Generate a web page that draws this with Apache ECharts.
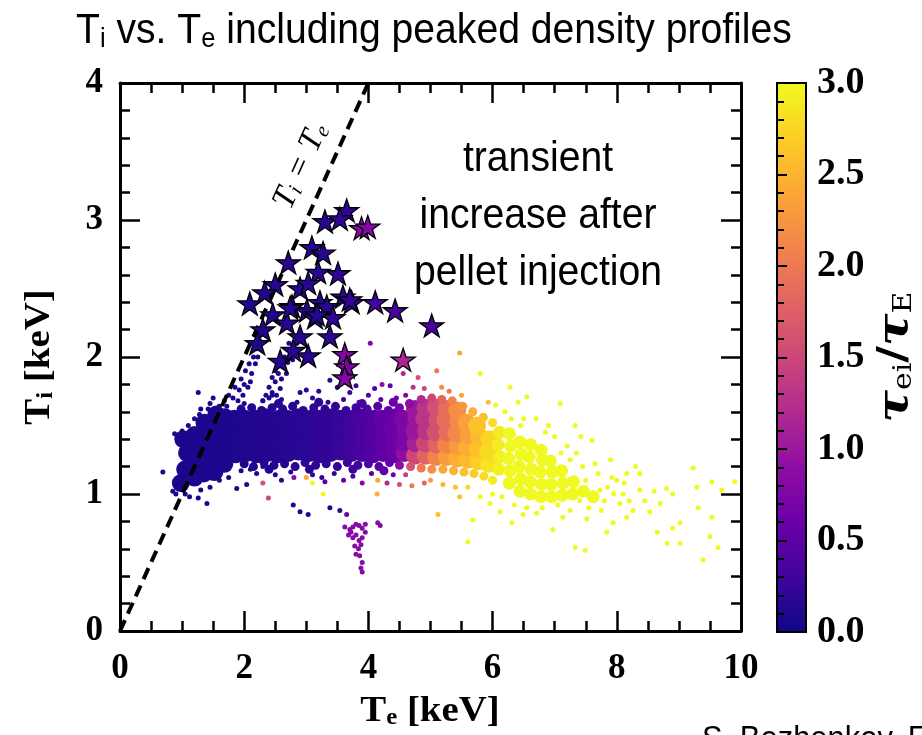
<!DOCTYPE html>
<html><head><meta charset="utf-8">
<script src="https://cdn.jsdelivr.net/npm/echarts@6/dist/echarts.min.js"></script>
<style>html,body{margin:0;padding:0;background:#fff}#c{width:922px;height:735px}</style>
</head><body><div id="c"></div><script>
// ---- data: [Te (keV), Ti (keV), tau_ei/tau_E] ----
const bandCore = [
[0.98,1.08,0.08],[1.05,1.18,0.08],[1.08,1.30,0.08],[1.02,1.40,0.08],
[1.2,1.12,0.08],[1.22,1.22,0.08],[1.18,1.33,0.08],[1.2,1.43,0.08],
[1.35,1.15,0.08],[1.37,1.25,0.08],[1.34,1.35,0.08],[1.38,1.45,0.08],[1.36,1.52,0.08],
[1.52,1.16,0.09],[1.5,1.26,0.09],[1.53,1.35,0.09],[1.5,1.44,0.09],[1.52,1.53,0.09],[1.55,1.58,0.09],
[1.68,1.22,0.1],[1.7,1.31,0.1],[1.67,1.4,0.1],[1.71,1.48,0.1],[1.69,1.56,0.1],
[1.86,1.29,0.1],[1.85,1.38,0.1],[1.88,1.46,0.1],[1.84,1.55,0.1],
[2.03,1.3,0.11],[2.02,1.39,0.11],[2.05,1.47,0.11],[2.01,1.55,0.11],
[2.2,1.29,0.12],[2.19,1.38,0.12],[2.21,1.47,0.12],[2.18,1.55,0.12],
[2.37,1.3,0.13],[2.36,1.39,0.13],[2.38,1.47,0.13],[2.35,1.56,0.13],
[2.54,1.29,0.14],[2.55,1.38,0.14],[2.53,1.46,0.14],[2.56,1.55,0.14],
[2.71,1.3,0.15],[2.7,1.39,0.15],[2.72,1.47,0.15],[2.69,1.55,0.15],
[2.88,1.31,0.16],[2.87,1.39,0.16],[2.89,1.48,0.16],[2.86,1.56,0.16],
[3.05,1.3,0.18],[3.06,1.38,0.18],[3.04,1.47,0.18],[3.07,1.55,0.18],
[3.22,1.29,0.2],[3.21,1.38,0.2],[3.23,1.46,0.2],[3.2,1.55,0.2],
[3.39,1.3,0.22],[3.4,1.39,0.22],[3.38,1.47,0.22],[3.41,1.56,0.22],
[3.56,1.31,0.25],[3.55,1.39,0.25],[3.57,1.48,0.25],[3.54,1.55,0.25],
[3.73,1.3,0.3],[3.74,1.38,0.3],[3.72,1.47,0.3],[3.75,1.55,0.3],
[3.9,1.3,0.36],[3.89,1.39,0.36],[3.91,1.47,0.36],[3.88,1.56,0.36],
[4.07,1.29,0.43],[4.08,1.38,0.43],[4.06,1.46,0.43],[4.09,1.55,0.43],
[4.24,1.3,0.52],[4.23,1.39,0.52],[4.25,1.47,0.52],[4.22,1.55,0.52],
[4.41,1.29,0.62],[4.42,1.38,0.62],[4.4,1.47,0.62],[4.43,1.56,0.62],
[4.58,1.3,0.9],[4.57,1.38,0.75],[4.59,1.47,0.75],[4.56,1.55,0.75],
[4.75,1.28,1.5],[4.76,1.37,1.1],[4.74,1.46,1.0],[4.77,1.55,1.0],[4.75,1.62,1.0],
[4.92,1.28,1.8],[4.91,1.37,1.5],[4.93,1.46,1.3],[4.9,1.55,1.3],[4.92,1.63,1.3],
[5.09,1.27,2.1],[5.1,1.36,1.8],[5.08,1.45,1.6],[5.11,1.54,1.6],[5.09,1.63,1.6],
[5.26,1.27,2.3],[5.25,1.36,2.1],[5.27,1.45,1.9],[5.24,1.54,1.9],[5.26,1.62,1.9],
[5.43,1.26,2.45],[5.44,1.35,2.3],[5.42,1.44,2.15],[5.45,1.53,2.15],[5.43,1.61,2.2],
[5.6,1.25,2.55],[5.59,1.34,2.45],[5.61,1.43,2.35],[5.58,1.52,2.35],
[5.77,1.24,2.7],[5.76,1.33,2.6],[5.78,1.42,2.55],[5.75,1.5,2.6],
[5.94,1.22,2.85],[5.93,1.31,2.8],[5.95,1.4,2.75]
];
const bandEdge = [
[1.95,1.62,0.11],[2.12,1.63,0.12],[2.28,1.61,0.12],[2.45,1.63,0.13],[2.62,1.62,0.14],[2.78,1.64,0.15],
[2.95,1.61,0.16],[3.12,1.63,0.18],[3.3,1.62,0.2],[3.47,1.64,0.22],[3.64,1.61,0.25],[3.8,1.63,0.3],
[3.98,1.62,0.36],[4.15,1.64,0.45],[4.32,1.61,0.55],[4.5,1.63,0.68],[4.66,1.66,0.85],[4.85,1.69,1.2],
[5.02,1.7,1.5],[5.18,1.69,1.8],[5.35,1.68,2.1],[5.52,1.64,2.25],[5.68,1.6,2.45],[5.85,1.56,2.6],
[6.0,1.52,2.8],
[2.0,1.22,0.11],[2.15,1.2,0.12],[2.32,1.23,0.12],[2.48,1.21,0.13],[2.65,1.22,0.14],[2.82,1.2,0.15],
[2.98,1.23,0.16],[3.15,1.21,0.18],[3.32,1.22,0.2],[3.5,1.2,0.22],[3.66,1.23,0.26],[3.83,1.21,0.3],
[4.0,1.22,0.38],[4.17,1.2,0.46],[4.34,1.23,0.56],[4.5,1.21,0.9],[4.68,1.2,1.6],[4.85,1.19,2.0],
[5.02,1.18,2.2],[5.2,1.18,2.4],[5.37,1.17,2.5],[5.54,1.16,2.6],[5.7,1.15,2.7],[5.86,1.13,2.8],
[6.0,1.1,2.9],[2.55,1.66,0.14],[3.2,1.67,0.19],[3.9,1.66,0.33],[4.4,1.67,0.6],[2.4,1.18,0.12],
[3.05,1.18,0.17],[3.75,1.18,0.28],[4.25,1.17,0.5]
];
const yellowCore = [
[6.1,1.18,2.95],[6.12,1.27,2.95],[6.09,1.36,2.9],[6.11,1.45,2.9],
[6.27,1.08,3],[6.28,1.17,3],[6.26,1.26,3],[6.29,1.35,3],[6.27,1.44,3],
[6.44,1.02,3],[6.45,1.11,3],[6.43,1.2,3],[6.46,1.29,3],[6.44,1.38,3],
[6.61,1.0,3],[6.6,1.09,3],[6.62,1.18,3],[6.59,1.27,3],[6.61,1.36,3],
[6.78,0.98,3],[6.79,1.07,3],[6.77,1.16,3],[6.8,1.25,3],[6.78,1.32,3],
[6.95,0.98,3],[6.94,1.07,3],[6.96,1.16,3],[6.93,1.24,3],
[7.12,0.99,3],[7.13,1.08,3],[7.11,1.17,3],
[7.29,1.0,3],[7.3,1.09,3],[7.46,1.02,3],[7.62,0.98,3]
];
const dots = [
// blue cluster edges
[0.69,1.16,0.08],[0.85,1.02,0.08],[0.9,1.0,0.08],[0.95,1.05,0.08],[0.88,1.44,0.08],[0.95,1.42,0.08],
[1.0,1.46,0.08],[1.1,1.5,0.08],[1.2,1.55,0.08],[1.28,1.58,0.08],[1.3,1.62,0.08],[1.26,1.74,0.08],
[1.42,1.62,0.08],[1.45,1.66,0.08],[1.5,1.7,0.08],[1.05,1.0,0.08],[1.12,0.98,0.08],[1.26,0.97,0.08],
[1.4,0.93,0.08],[1.3,1.03,0.08],[1.45,1.05,0.08],[1.6,1.1,0.1],[1.75,1.12,0.1],[1.88,1.04,0.1],
[2.04,1.07,0.1],[1.95,1.17,0.1],[2.1,1.18,0.12],[2.3,1.2,0.13],
// band edges
[2.0,1.66,0.11],[2.3,1.68,0.12],[2.6,1.69,0.14],[2.85,1.67,0.16],[3.1,1.7,0.18],[3.35,1.67,0.22],
[3.6,1.69,0.25],[3.85,1.67,0.33],[4.0,1.72,0.4],[4.2,1.69,0.5],[4.45,1.7,0.62],[4.6,1.72,0.8],
[2.45,1.72,0.13],[3.7,1.74,0.3],[2.2,1.15,0.12],[2.5,1.14,0.14],[2.75,1.16,0.15],[3.1,1.14,0.18],
[3.45,1.15,0.22],[3.75,1.13,0.3],[4.05,1.15,0.43],[4.4,1.14,0.62],[4.6,1.14,1.4],[3.25,1.12,0.2],
// branch along the line
[1.6,1.64,0.1],[1.68,1.68,0.1],[1.75,1.72,0.1],[1.82,1.7,0.1],[1.85,1.78,0.1],[1.92,1.76,0.1],
[1.95,1.84,0.1],[2.0,1.8,0.1],[2.02,1.9,0.1],[2.08,1.95,0.1],[2.12,1.88,0.1],[2.15,2.0,0.1],
[2.2,2.06,0.1],[2.25,2.12,0.1],[1.72,1.64,0.1],[1.9,1.68,0.1],[2.06,1.78,0.1],[2.18,1.95,0.1],
[1.98,1.72,0.1],[2.1,1.82,0.1],[2.22,2.0,0.1],
// second branch
[2.35,1.72,0.12],[2.4,1.78,0.12],[2.45,1.74,0.12],[2.5,1.82,0.12],[2.55,1.88,0.12],[2.6,1.84,0.12],
[2.62,1.93,0.12],[2.7,1.96,0.12],[2.75,2.02,0.12],[2.8,2.06,0.12],[2.85,2.1,0.12],[2.5,1.9,0.12],
[2.68,1.88,0.12],[2.58,1.77,0.12],[2.78,1.98,0.12],[2.9,2.14,0.12],[2.45,1.85,0.12],[2.65,2.0,0.12],
[2.72,2.1,0.12],[2.55,1.95,0.12],[2.4,1.7,0.12],[2.3,1.68,0.12],[2.52,1.72,0.12],
// above the band
[3.38,1.83,0.2],[4.03,2.1,0.8],[4.22,1.8,0.9],[4.56,1.88,1.2],[3.0,1.76,0.18],[3.5,1.78,0.25],
[3.8,1.79,0.35],[4.1,1.77,0.45],[4.35,1.79,0.6],[2.9,1.74,0.16],[3.2,1.75,0.2],[4.72,1.78,1.3],
[4.9,1.77,1.5],[5.18,1.78,2.2],[5.3,1.75,2.0],[5.5,1.72,2.4],[5.93,1.67,2.6],[5.47,2.03,2.4],
[5.8,1.88,3.0],[5.1,1.9,2.0],[4.8,1.85,1.6],
// below the band
[2.3,1.08,1.6],[2.39,0.97,1.5],[3.1,1.08,3.0],[3.27,1.0,3.0],[3.0,1.12,2.4],[4.14,1.0,2.5],
[4.15,1.1,2.4],[2.79,0.92,0.12],[2.9,0.87,0.12],[3.03,0.85,0.12],[3.38,0.9,0.15],[3.54,0.88,0.2],
[3.65,0.85,0.6],[2.6,1.1,0.15],[2.8,1.12,0.8],[3.3,1.09,0.5],[3.6,1.1,0.6],[3.9,1.08,0.8],
[4.3,1.08,1.2],[4.5,1.07,1.6],[4.7,1.06,2.0],[4.9,1.08,1.8],[5.12,0.85,2.6],[5.47,0.98,2.6],
[5.6,0.65,3],[5.68,0.81,3],[5.0,1.1,2.3],[5.2,1.07,2.5],[5.4,1.05,2.6],[5.6,1.05,2.8],
[5.8,0.98,3],[5.96,0.93,3],
// low purple group
[3.62,0.76,0.85],[3.7,0.74,0.85],[3.75,0.76,0.85],[3.8,0.78,0.85],[3.85,0.77,0.85],[3.9,0.75,0.85],
[3.95,0.78,0.85],[4.19,0.77,0.85],[4.15,0.79,0.85],[3.68,0.7,0.85],[3.75,0.68,0.85],[3.8,0.7,0.85],
[3.85,0.66,0.85],[3.9,0.68,0.85],[3.78,0.62,0.85],[3.84,0.6,0.85],[3.88,0.63,0.85],[3.8,0.56,0.85],
[3.86,0.55,0.85],[3.9,0.5,0.85],[3.88,0.46,0.85],[3.9,0.43,0.85],[3.72,0.72,0.85],[3.95,0.72,0.85],
// yellow tail
[6.28,1.78,3],[6.41,1.67,3],[6.55,1.71,3],[7.09,1.66,3],[7.33,1.5,3],[7.6,1.39,3],[7.92,1.12,3],
[8.16,1.15,3],[8.37,1.15,3],[8.8,1.04,3],[8.9,1.0,3],[9.23,1.19,3],[9.29,1.05,3],[9.53,1.09,3],
[9.69,1.03,3],[9.9,1.09,3],[9.31,0.9,3],[9.53,0.83,3],[9.63,0.61,3],[9.39,0.52,3],[9.5,0.69,3],
[8.65,0.72,3],[8.81,0.64,3],[9.02,0.64,3],[8.9,0.75,3],[9.02,0.79,3],[7.84,0.72,3],[7.33,0.61,3],
[7.49,0.59,3],[6.97,0.74,3],[7.73,1.03,3],[8.05,0.93,3],[8.26,0.88,3],[8.37,1.03,3],[8.53,0.87,3],
[8.7,0.93,3],[8.16,0.83,3],[7.94,0.79,3],[7.52,0.82,3],[7.13,0.83,3],[6.71,0.86,3],[6.49,0.85,3],
[6.31,0.79,3],[6.12,0.87,3],[7.45,1.2,3],[7.5,1.1,3],[7.6,1.0,3],[7.7,1.15,3],[7.8,0.95,3],
[7.4,0.95,3],[7.55,0.9,3],[7.65,1.22,3],[7.85,1.05,3],[8.0,1.1,3],[8.1,1.0,3],[8.2,0.95,3],
[7.35,1.3,3],[7.2,1.35,3],[7.25,1.25,3],[7.0,1.42,3],[6.9,1.5,3],[6.7,1.55,3],[6.5,1.55,3],
[6.3,1.55,3],[6.2,1.6,3],[6.85,1.45,3],[7.1,1.3,3],[6.0,1.0,3],[6.15,0.98,3],[6.35,0.92,3],
[6.55,0.9,3],[6.8,0.9,3],[7.05,0.92,3],[7.25,0.88,3],[6.05,1.65,3],[6.45,1.5,3],[7.42,1.42,3],
[7.9,1.25,3],[8.3,1.2,3],[8.45,0.95,3],[8.6,1.02,3],[7.75,0.88,3],[7.95,1.0,3],[8.12,1.08,3]
];
const stars = [
[3.65,3.07,0.2],[3.30,2.99,0.15],[3.54,3.01,0.2],[3.89,2.94,0.85],[3.99,2.95,0.8],
[3.09,2.80,0.15],[3.27,2.76,0.15],[2.71,2.69,0.15],[3.51,2.61,0.2],[3.19,2.62,0.15],
[2.50,2.53,0.15],[2.33,2.47,0.12],[2.09,2.39,0.12],[2.90,2.50,0.15],[3.03,2.54,0.15],
[3.59,2.44,0.2],[3.73,2.40,0.25],[4.11,2.40,0.3],[4.43,2.34,0.35],[5.02,2.23,0.35],
[2.77,2.37,0.15],[3.22,2.40,0.15],[3.33,2.37,0.15],[3.01,2.34,0.15],[3.14,2.29,0.15],
[3.43,2.29,0.2],[2.46,2.31,0.12],[2.69,2.25,0.15],[2.30,2.20,0.12],[2.90,2.15,0.15],
[3.38,2.15,0.2],[2.21,2.10,0.12],[3.03,2.01,0.15],[2.58,1.97,0.15],[3.62,2.02,0.8],
[4.56,1.98,1.15],[3.65,1.93,0.75],[3.62,1.85,0.8],[2.79,2.05,0.15],[2.74,2.36,0.15],
[3.17,2.31,0.15],[3.70,2.42,0.2]
];
const identityLine = [[0,0],[4,4]];
const xRange = [0, 10], yRange = [0, 4], cRange = [0, 3];
const plasma = ['#0d0887','#41049d','#6a00a8','#8f0da4','#b12a90','#cc4778','#e16462','#f2844b','#fca636','#fcce25','#f0f921'];

const SERIF = '"Liberation Serif","DejaVu Serif",serif';
const SANS = '"Liberation Sans",Arial,sans-serif';
const starPath = 'path://M50,2 L61.8,37.6 L99,37.6 L69,59.6 L80.4,95 L50,73.2 L19.6,95 L31,59.6 L1,37.6 L38.2,37.6 Z';

function frameAxis(pos, isX, labels) {
  return {
    type: 'value', gridIndex: 0, position: pos,
    min: isX ? xRange[0] : yRange[0], max: isX ? xRange[1] : yRange[1], interval: isX ? 2 : 1,
    axisLine: { show: true, onZero: false, lineStyle: { color: '#000', width: 3 } },
    axisTick: { show: true, inside: true, length: 20, lineStyle: { color: '#000', width: 2.5 } },
    minorTick: { show: true, splitNumber: isX ? 4 : 5, length: 10, lineStyle: { color: '#000', width: 2.5 } },
    splitLine: { show: false }, minorSplitLine: { show: false },
    axisLabel: { show: labels, color: '#000', fontFamily: SERIF, fontWeight: 'bold', fontSize: 35, margin: isX ? 20 : 17 },
    z: 5
  };
}
function subRich(family, big, small, drop) {
  return {
    a: { fontFamily: family, fontSize: big, lineHeight: big, verticalAlign: 'top', fill: '#000' },
    s: { fontFamily: family, fontSize: small, lineHeight: small, padding: [drop, 0, 0, 0], verticalAlign: 'bottom', fill: '#000' }
  };
}

const option = {
  animation: false,
  backgroundColor: '#fff',
  grid: [
    { left: 120, top: 83, width: 621, height: 548, containLabel: false },
    { left: 777, top: 83, width: 29, height: 549, show: true, borderColor: '#000', borderWidth: 2, backgroundColor: 'transparent', z: 10 }
  ],
  xAxis: [
    frameAxis('bottom', true, true), frameAxis('top', true, false),
    { type: 'value', gridIndex: 1, show: false, min: 0, max: 1 }
  ],
  yAxis: [
    frameAxis('left', false, true), frameAxis('right', false, false),
    { type: 'value', gridIndex: 1, position: 'left', min: cRange[0], max: cRange[1], interval: 0.5,
      axisLine: { show: false }, axisLabel: { show: false }, splitLine: { show: false },
      axisTick: { show: true, inside: true, length: 10, lineStyle: { color: '#000', width: 2 } },
      minorTick: { show: true, splitNumber: 5, length: 7, lineStyle: { color: '#000', width: 2 } }, z: 12 },
    { type: 'value', gridIndex: 1, position: 'right', min: cRange[0], max: cRange[1], interval: 0.5,
      axisLine: { show: false }, axisTick: { show: false }, splitLine: { show: false },
      axisLabel: { show: true, color: '#000', fontFamily: SERIF, fontWeight: 'bold', fontSize: 38, margin: 11,
        formatter: v => v.toFixed(1) }, z: 12 }
  ],
  visualMap: {
    type: 'continuous', min: cRange[0], max: cRange[1], dimension: 2, seriesIndex: [0, 1, 2, 3, 5],
    inRange: { color: plasma }, calculable: false, hoverLink: false, realtime: false,
    left: 777, top: 83, itemWidth: 29, itemHeight: 549, padding: 0, text: null, showLabel: false, z: 4
  },
  series: [
    { type: 'scatter', data: bandCore, symbolSize: 18, xAxisIndex: 0, yAxisIndex: 0, itemStyle: { opacity: 1 }, z: 2 },
    { type: 'scatter', data: yellowCore, symbolSize: 13, xAxisIndex: 0, yAxisIndex: 0, itemStyle: { opacity: 1 }, z: 2 },
    { type: 'scatter', data: bandEdge, symbolSize: 9, xAxisIndex: 0, yAxisIndex: 0, itemStyle: { opacity: 1 }, z: 2 },
    { type: 'scatter', data: dots, symbolSize: 5, xAxisIndex: 0, yAxisIndex: 0, itemStyle: { opacity: 1 }, z: 2 },
    { type: 'line', data: identityLine, xAxisIndex: 0, yAxisIndex: 0, symbol: 'none', z: 3,
      lineStyle: { color: '#000', width: 4, type: [12, 7] } },
    { type: 'scatter', data: stars, symbol: starPath, symbolSize: 24, symbolKeepAspect: true, xAxisIndex: 0, yAxisIndex: 0,
      itemStyle: { borderColor: '#000', borderWidth: 1.3, opacity: 1 }, z: 4 }
  ],
  graphic: [
    { type: 'text', x: 76, y: 10, scaleX: 0.91, style: { text: '{a|T}{s|i}{a| vs. T}{s|e}{a| including peaked density profiles}',
      align: 'left', verticalAlign: 'top', fill: '#000', rich: subRich(SANS, 43, 28, 22) } },
    { type: 'text', x: 538, y: 131, scaleX: 0.91, style: { text: 'transient\nincrease after\npellet injection',
      align: 'center', verticalAlign: 'top', fontFamily: SANS, fontSize: 43, lineHeight: 57, fill: '#000' } },
    { type: 'text', x: 301, y: 166, rotation: 1.145, style: { text: '{a|T}{s|i}{a| = T}{s|e}',
      align: 'center', verticalAlign: 'middle', fill: '#000',
      rich: {
        a: { fontFamily: SERIF, fontStyle: 'italic', fontSize: 33, lineHeight: 33, verticalAlign: 'top', fill: '#000' },
        s: { fontFamily: SERIF, fontStyle: 'italic', fontSize: 21, lineHeight: 21, padding: [18, 0, 0, 0], verticalAlign: 'bottom', fill: '#000' } } } },
    { type: 'text', x: 40, y: 357, rotation: Math.PI / 2, scaleX: 1.08, style: { text: '{a|T}{s|i}{a| [keV]}',
      align: 'center', verticalAlign: 'middle', fill: '#000',
      rich: {
        a: { fontFamily: SERIF, fontWeight: 'bold', fontSize: 36, lineHeight: 36, verticalAlign: 'top', fill: '#000' },
        s: { fontFamily: SERIF, fontWeight: 'bold', fontSize: 23, lineHeight: 23, padding: [19, 0, 0, 0], verticalAlign: 'bottom', fill: '#000' } } } },
    { type: 'text', x: 430, y: 712, scaleX: 1.08, style: { text: '{a|T}{s|e}{a| [keV]}',
      align: 'center', verticalAlign: 'middle', fill: '#000',
      rich: {
        a: { fontFamily: SERIF, fontWeight: 'bold', fontSize: 36, lineHeight: 36, verticalAlign: 'top', fill: '#000' },
        s: { fontFamily: SERIF, fontWeight: 'bold', fontSize: 23, lineHeight: 23, padding: [19, 0, 0, 0], verticalAlign: 'bottom', fill: '#000' } } } },
    { type: 'text', x: 896, y: 357, rotation: Math.PI / 2, scaleX: 1.15, style: { text: '{t|τ}{s|ei}{a|/}{t|τ}{s|E}',
      align: 'center', verticalAlign: 'middle', fill: '#000',
      rich: {
        t: { fontFamily: '"DejaVu Serif",serif', fontWeight: 'bold', fontStyle: 'italic', fontSize: 42, lineHeight: 42, verticalAlign: 'top', fill: '#000' },
        a: { fontFamily: '"DejaVu Serif",serif', fontWeight: 'bold', fontSize: 40, lineHeight: 42, verticalAlign: 'top', fill: '#000' },
        s: { fontFamily: '"DejaVu Serif",serif', fontSize: 26, lineHeight: 26, padding: [22, 0, 0, 0], verticalAlign: 'bottom', fill: '#000' } } } },
    { type: 'text', x: 702, y: 723, scaleX: 0.91, style: { text: 'S. Bozhenkov, E', align: 'left', verticalAlign: 'top',
      fontFamily: SANS, fontSize: 34, fill: '#000' } }
  ]
};
const chart = echarts.init(document.getElementById('c'), null, { renderer: 'canvas' });
chart.setOption(option);
</script></body></html>
